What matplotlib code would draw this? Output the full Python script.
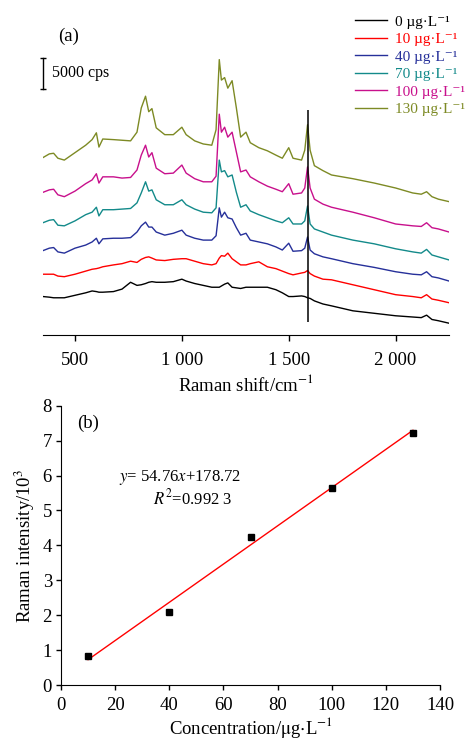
import matplotlib.pyplot as plt
from matplotlib.ticker import FuncFormatter, MultipleLocator

plt.rcParams['font.family'] = ['Liberation Serif', 'DejaVu Serif']
plt.rcParams['mathtext.fontset'] = 'stix'

# Raman shift grid (cm-1) shared by all spectra
shift = [350, 380, 400, 420, 450, 500, 550, 580, 600, 612,
         630, 680, 720, 760, 790, 810, 830, 845, 860, 880,
         920, 960, 1000, 1020, 1060, 1100, 1140, 1160, 1175, 1185,
         1200, 1215, 1235, 1255, 1275, 1300, 1320, 1360, 1400, 1440,
         1470, 1500, 1520, 1560, 1575, 1588, 1600, 1620, 1660, 1700,
         1800, 1900, 2000, 2080, 2120, 2145, 2170, 2200, 2250]

# stacked spectra, 10^3 cps (vertical offsets included)
spec_0 = [6.2, 6.1, 6.0, 6.0, 6.0, 6.4, 6.8, 7.1, 7.0, 6.9,
          6.9, 7.0, 7.4, 8.5, 8.0, 8.1, 8.3, 8.5, 8.6, 8.5,
          8.5, 8.6, 9.0, 8.7, 8.3, 8.0, 7.7, 7.7, 7.7, 7.9,
          8.2, 8.4, 7.7, 7.6, 7.5, 7.7, 7.7, 7.7, 7.7, 7.3,
          6.8, 6.2, 6.2, 6.3, 6.2, 6.0, 5.9, 5.5, 5.0, 4.7,
          3.9, 3.5, 3.1, 2.9, 2.8, 3.2, 2.5, 2.3, 1.9]
spec_10 = [9.8, 9.8, 9.8, 9.5, 9.4, 9.8, 10.3, 10.6, 10.7, 10.8,
           11.0, 11.3, 11.5, 11.9, 11.7, 12.2, 12.5, 12.6, 12.4, 12.1,
           12.0, 12.2, 12.3, 12.3, 11.9, 11.5, 11.3, 11.5, 12.4, 12.8,
           12.7, 13.2, 12.3, 11.8, 11.3, 11.3, 11.5, 11.8, 11.0, 10.7,
           10.3, 9.9, 9.7, 10.0, 10.1, 10.4, 9.9, 9.5, 9.0, 8.9,
           8.1, 7.3, 6.5, 6.2, 6.0, 6.5, 5.8, 5.6, 5.2]
spec_40 = [13.6, 14.0, 14.1, 13.4, 13.2, 14.0, 14.5, 15.0, 15.6, 14.7,
           15.5, 15.6, 15.6, 15.7, 16.6, 17.6, 18.2, 17.4, 17.4, 16.6,
           16.1, 16.4, 16.9, 16.1, 15.6, 15.3, 15.3, 16.0, 20.5, 19.0,
           19.8, 18.9, 18.7, 17.3, 16.1, 16.4, 15.3, 15.0, 14.7, 14.2,
           13.7, 14.8, 13.5, 13.6, 14.0, 15.8, 13.7, 13.1, 12.6, 12.3,
           11.5, 10.9, 10.2, 9.8, 9.7, 10.2, 9.4, 9.2, 8.7]
spec_70 = [18.1, 18.5, 18.6, 17.7, 17.6, 18.4, 19.4, 19.8, 20.6, 19.2,
           20.2, 20.2, 20.3, 20.4, 21.3, 22.9, 24.7, 23.2, 23.4, 21.8,
           21.0, 21.0, 21.8, 21.0, 20.3, 19.8, 19.7, 20.5, 28.2, 26.3,
           26.5, 25.5, 25.8, 23.0, 20.6, 21.0, 20.0, 19.4, 18.9, 18.4,
           18.1, 18.9, 17.9, 17.9, 18.4, 20.8, 17.9, 17.1, 16.6, 16.1,
           15.3, 14.7, 13.9, 13.4, 13.2, 13.8, 12.9, 12.6, 12.1]
spec_100 = [23.0, 23.4, 23.5, 22.6, 22.3, 23.2, 24.4, 25.0, 26.0, 24.5,
            25.5, 25.5, 25.3, 25.4, 26.6, 29.0, 30.6, 28.7, 29.4, 26.9,
            26.0, 26.1, 27.4, 26.1, 25.2, 24.7, 24.7, 25.6, 35.6, 32.7,
            33.5, 31.9, 32.7, 29.5, 26.3, 26.6, 25.5, 24.7, 24.0, 23.5,
            23.1, 24.4, 22.7, 22.9, 23.7, 27.1, 23.7, 21.9, 21.1, 20.6,
            19.8, 18.9, 17.9, 17.6, 17.5, 18.1, 17.3, 17.1, 16.6]
spec_130 = [28.6, 29.2, 29.3, 28.5, 28.2, 29.4, 30.6, 31.5, 32.6, 30.3,
            31.6, 31.5, 31.4, 31.3, 32.7, 36.6, 38.5, 36.0, 36.5, 33.4,
            32.3, 32.3, 33.5, 32.3, 31.3, 30.8, 30.6, 33.1, 44.4, 41.1,
            41.5, 39.8, 41.0, 36.6, 31.9, 32.7, 31.0, 30.2, 29.7, 29.0,
            28.5, 30.2, 28.5, 28.2, 29.8, 33.9, 29.8, 27.3, 26.5, 25.8,
            25.2, 24.5, 23.7, 22.9, 22.7, 23.1, 22.3, 21.9, 21.5]

spectra = [spec_0, spec_10, spec_40, spec_70, spec_100, spec_130]
conc_labels = ['0', '10', '40', '70', '100', '130']
colors = ['#000000', '#ff0000', '#26309a', '#138a8a', '#c8108c', '#7d8a24']

# calibration: intensity of the 1588 cm-1 band vs concentration
conc = [10, 40, 70, 100, 130]
band_int = [0.82, 2.08, 4.24, 5.65, 7.23]  # 10^3 cps
slope, intercept = 54.76, 178.72
r2_text = '0.992 3'

fs = 13.5

fig = plt.figure(figsize=(4.7, 7.4), dpi=100)

# ---- (a) stacked spectra ----
ax1 = fig.add_axes([0.0909, 0.5473, 0.8645, 0.4392])
for y, lab, c in zip(spectra, conc_labels, colors):
    ax1.plot(shift, y, color=c, lw=1.0, label=f'{lab} \u00b5g\u00b7L\u207b\u00b9')
ax1.vlines(1588, 2.1, 36.3, color='black', lw=1.1)

ax1.set_xlim(349, 2250)
ax1.set_ylim(0, 52.4)
for s in ['top', 'right', 'left']:
    ax1.spines[s].set_visible(False)
ax1.set_yticks([])
ax1.set_xticks([500, 1000, 1500, 2000])
ax1.xaxis.set_major_formatter(FuncFormatter(lambda v, p: f"{int(v):,}".replace(',', ' ')))
ax1.tick_params(axis='x', direction='out', length=4.5, width=1, labelsize=fs, pad=8)
ax1.set_xlabel('Raman shift/cm$^{-1}$', fontsize=fs, labelpad=3)

# 5000 cps scale bar
ax1.plot([352, 352], [39.7, 44.7], color='black', lw=1, clip_on=False)
ax1.plot([352, 352], [39.7, 44.7], ls='none', marker='_', ms=5, mew=1, color='black', clip_on=False)
ax1.text(392, 42.2, '5000 cps', fontsize=11.5, ha='left', va='center')
ax1.text(421, 48.1, '(a)', fontsize=fs, ha='left', va='center')

leg = ax1.legend(loc='upper left', bbox_to_anchor=(355 / 470, 1 - 15 / 740),
                 bbox_transform=fig.transFigure, frameon=False, fontsize=11,
                 handlelength=2.1, handletextpad=0.55, labelspacing=0.25,
                 borderpad=0, borderaxespad=0, labelcolor='linecolor')

# ---- (b) calibration curve ----
ax2 = fig.add_axes([0.1298, 0.0743, 0.8064, 0.3774])
fit_x = [conc[0], conc[-1]]
fit_y = [(slope * x + intercept) / 1000 for x in fit_x]
ax2.plot(fit_x, fit_y, color='#ff0000', lw=1)
ax2.plot(conc, band_int, ls='none', marker='s', ms=5, color='black')

ax2.set_xlim(0, 140)
ax2.set_ylim(0, 8)
ax2.xaxis.set_major_locator(MultipleLocator(20))
ax2.yaxis.set_major_locator(MultipleLocator(1))
ax2.spines['top'].set_visible(False)
ax2.spines['right'].set_visible(False)
ax2.tick_params(direction='out', length=3.5, width=1, labelsize=fs, pad=3)
ax2.tick_params(axis='x', pad=5)
ax2.set_xlabel(r'Concentration/$\mathrm{\mu}$g$\cdot$L$^{-1}$', fontsize=fs, labelpad=1)
ax2.set_ylabel('Raman intensity/10$^3$', fontsize=fs, labelpad=4)

ax2.text(5.9, 7.5, '(b)', fontsize=fs, ha='left', va='center')
ax2.text(21.5, 5.95, f'$y$= {slope}$x$+{intercept}', fontsize=12, ha='left', va='center')
ax2.text(34, 5.35, f'$R^2$={r2_text}', fontsize=12, ha='left', va='center')

fig.savefig('out.png', dpi=100)
